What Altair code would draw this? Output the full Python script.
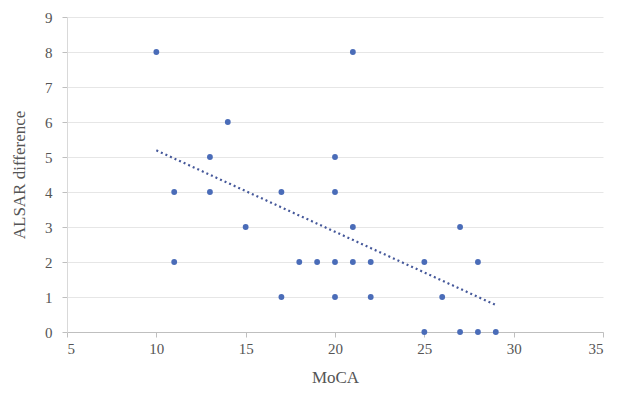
import altair as alt
import pandas as pd

moca = [10, 21, 14, 13, 20, 11, 13, 17, 20, 15, 21, 27, 11, 18, 19, 20, 21, 22, 25, 28, 17, 20, 22, 26, 25, 27, 28, 29]
alsar = [8, 8, 6, 5, 5, 4, 4, 4, 4, 3, 3, 3, 2, 2, 2, 2, 2, 2, 2, 2, 1, 1, 1, 1, 0, 0, 0, 0]
trend_x = [10, 29]
trend_y = [5.19, 0.77]
x_ticks = [5, 10, 15, 20, 25, 30, 35]
y_ticks = [0, 1, 2, 3, 4, 5, 6, 7, 8, 9]

pts = pd.DataFrame({"MoCA": moca, "ALSAR": alsar})
trend = pd.DataFrame({"MoCA": trend_x, "ALSAR": trend_y})

xs = alt.Scale(domain=[5, 35], nice=False, zero=False)
ys = alt.Scale(domain=[0, 9], nice=False)

xaxis = alt.Axis(values=x_ticks, grid=False, title="MoCA",
                 tickSize=5, tickColor="#bfbfbf", domainColor="#bfbfbf",
                 labelPadding=4, titlePadding=13, labelOverlap=False)
yaxis = alt.Axis(values=y_ticks, grid=True, gridColor="#e6e6e6", title="ALSAR difference",
                 tickSize=5, tickColor="#bfbfbf", domainColor="#d9d9d9",
                 labelPadding=10, titlePadding=16, labelOverlap=False)

points = alt.Chart(pts).mark_circle(size=34, color="#4a6cb8", opacity=1).encode(
    x=alt.X("MoCA:Q", scale=xs, axis=xaxis),
    y=alt.Y("ALSAR:Q", scale=ys, axis=yaxis),
)

line = alt.Chart(trend).mark_line(color="#45589a", strokeWidth=2.2, strokeDash=[2, 3]).encode(
    x=alt.X("MoCA:Q", scale=xs, axis=xaxis),
    y=alt.Y("ALSAR:Q", scale=ys, axis=yaxis),
)

chart = (line + points).properties(
    width=536, height=315,
    padding={"left": 59, "top": 9, "right": 7, "bottom": 54},
    autosize="none",
).configure_view(stroke=None).configure_axis(
    labelFont="Liberation Serif", titleFont="Liberation Serif",
    labelFontSize=15, titleFontSize=17, labelColor="#555555", titleColor="#555555",
    titleFontWeight="normal",
)

chart.save("out.html", embed_options={"renderer": "svg", "actions": False})
